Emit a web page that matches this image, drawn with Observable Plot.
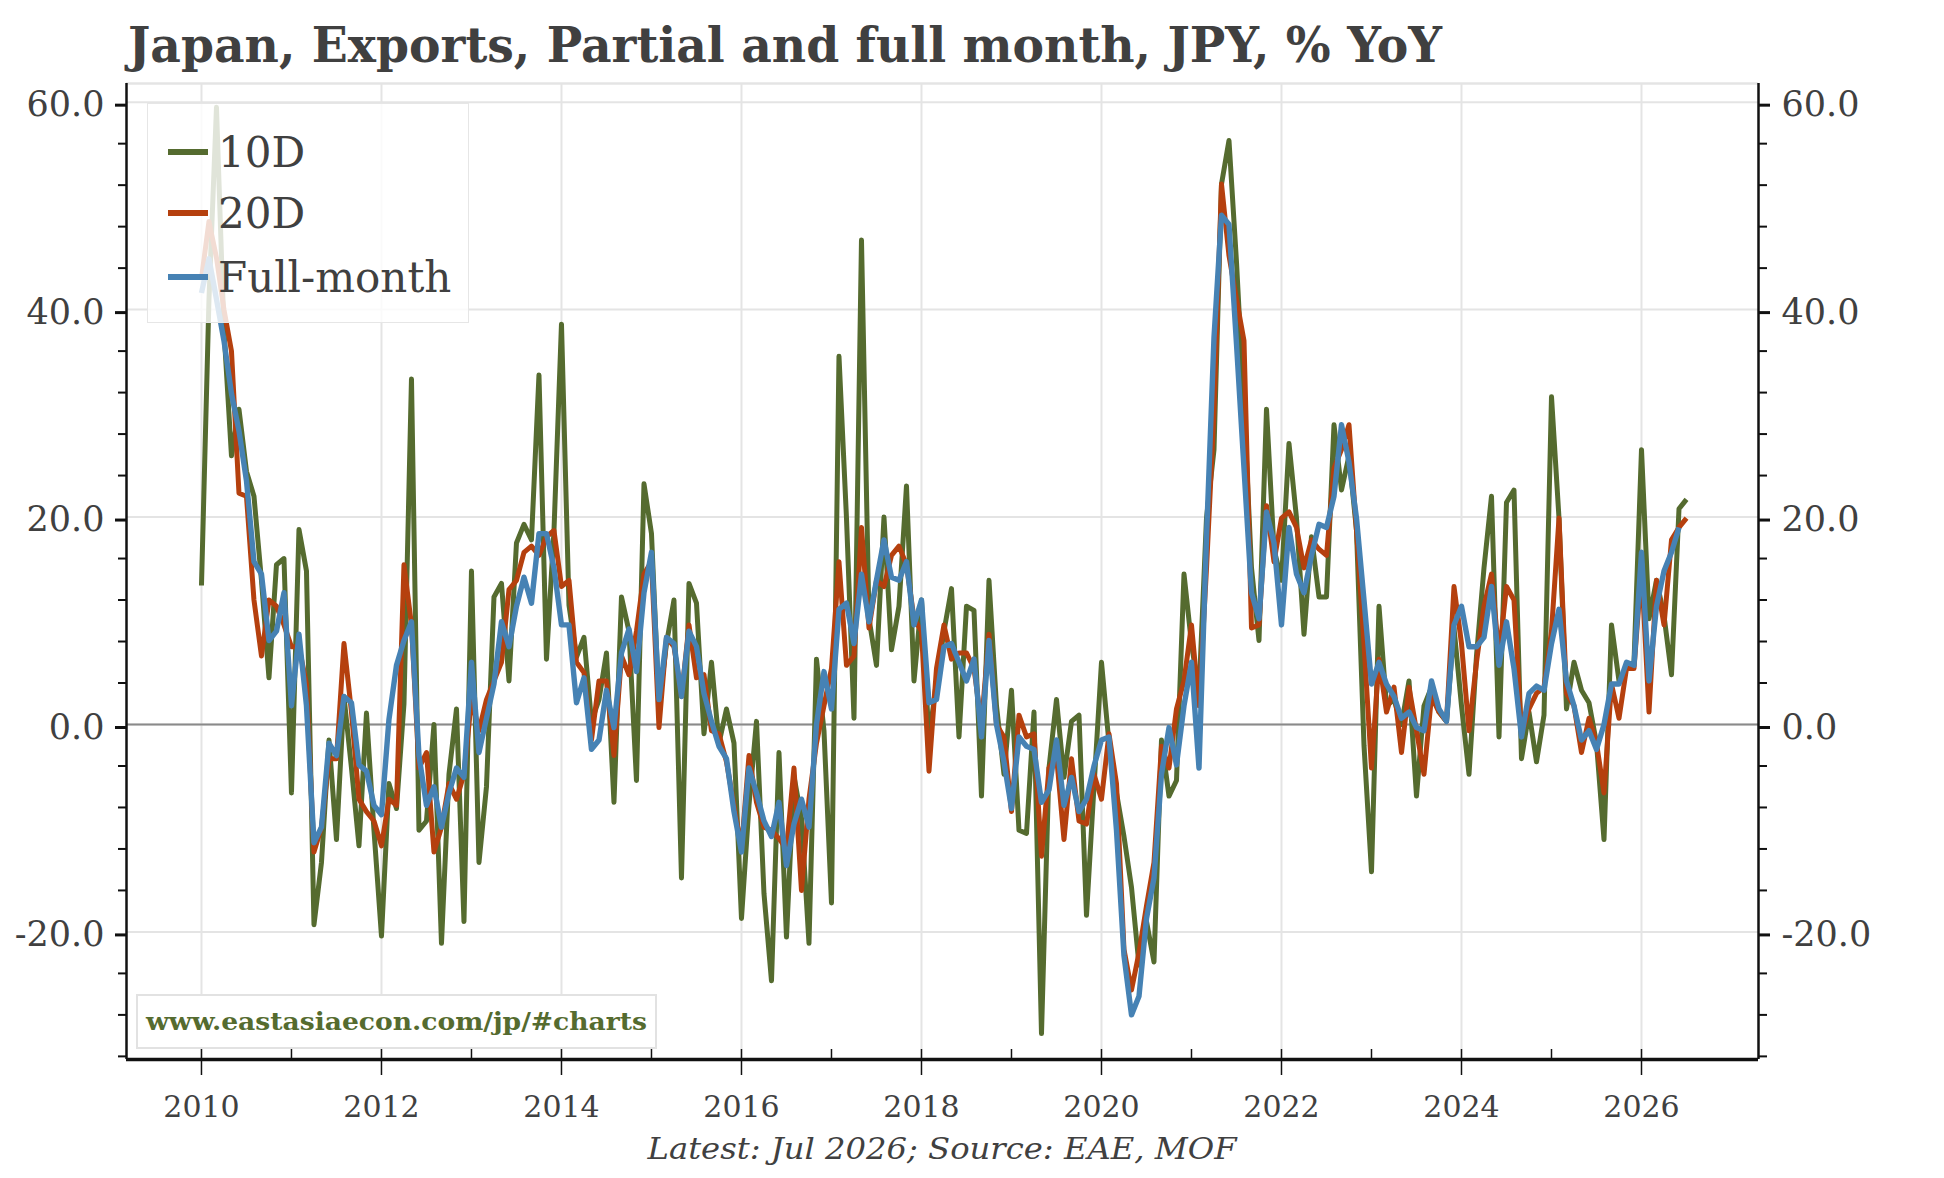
<!DOCTYPE html>
<html>
<head>
<meta charset="utf-8">
<script src="https://cdn.jsdelivr.net/npm/d3@7"></script>
<script src="https://cdn.jsdelivr.net/npm/@observablehq/plot@0.6"></script>
<style>
  html, body { margin: 0; padding: 0; background: #ffffff; }
  #wrap { position: relative; width: 1944px; height: 1178px; overflow: hidden;
          font-family: "DejaVu Serif", serif; color: #404040; background: #fff; }
  #chart { position: absolute; left: 0; top: 0; }
  .txt { position: absolute; white-space: nowrap; line-height: 1; }
  #title { left: 128px; font-weight: bold; font-size: 48px; color: #404040; }
  #caption { font-style: italic; font-size: 29px; color: #404040; }
  #legend { position: absolute; left: 147px; top: 103px; width: 322px; height: 220px;
            background: rgba(255,255,255,0.82); border: 1.5px solid #e6e6e6; box-sizing: border-box; }
  .sw { position: absolute; height: 6px; width: 40px; }
  .lab { position: absolute; font-size: 42px; line-height: 1; color: #404040; white-space: nowrap; }
  #wmbox { position: absolute; left: 136px; top: 994px; width: 521px; height: 55px;
           background: #fff; border: 2px solid #e2e2e2; box-sizing: border-box; }
  #wm { font-weight: bold; font-size: 25px; color: #556b2f; }
</style>
</head>
<body>
<div id="wrap">
  <div id="chart"></div>
  <div id="legend"></div>
  <div id="wmbox"></div>
  <div id="wm" class="txt">www.eastasiaecon.com/jp/#charts</div>
  <div id="title" class="txt">Japan, Exports, Partial and full month, JPY, % YoY</div>
  <div id="caption" class="txt">Latest: Jul 2026; Source: EAE, MOF</div>
</div>
<script>
// ---------------- DATA (monthly, starting Jan 2010) ----------------
const startYear = 2010;
const seriesNames = ["10D", "20D", "Full-month"];
const seriesColors = ["#556b2f", "#b5400e", "#4682b4"];

const tenDay = [
  13.4, 41, 59.5, 38, 25.9, 30.4, 24.4, 22.0, 13.9, 4.5, 15.4, 16.0,
  -6.6, 18.8, 14.8, -19.3, -13.3, -1.5, -11.1, 2.7, -4.2, -11.7, 1.1, -10.2,
  -20.4, -5.7, -8.1, 2, 33.3, -10.2, -9.3, 0.0, -21.1, -4.8, 1.5, -19.0,
  14.8, -13.3, -6.0, 12.3, 13.6, 4.2, 17.5, 19.3, 17.8, 33.7, 6.3, 18.7,
  38.6, 11.5, 6.5, 8.4, 0.3, 2.4, 6.9, -7.5, 12.3, 9.0, -5.4, 23.2,
  18.4, 1.8, 7.8, 12.0, -14.8, 13.6, 11.7, -0.9, 6.0, -1.8, 1.5, -1.8,
  -18.7, -7.8, 0.3, -16.3, -24.7, -2.7, -20.5, -5, -9, -21.1, 6.3, -0.6,
  -17.2, 35.5, 19.9, 0.6, 46.7, 10.2, 5.7, 20.0, 7.2, 11.4, 23.0, 4.2,
  12.0, -1.5, 4.2, 9.0, 13.1, -1.2, 11.4, 11.0, -6.9, 13.9, 1.8, -4.8,
  3.3, -10.2, -10.5, 1.2, -29.8, -4.2, 2.4, -5.1, 0.3, 0.9, -18.4, -6.0,
  6.0, -1.8, -6.6, -10.8, -15.7, -23.2, -19.0, -22.9, -1.5, -6.9, -5.4, 14.5,
  7.8, 3, 19.9, 26.5, 52.1, 56.3, 44.6, 30.7, 15.1, 8.1, 30.4, 16.9,
  13.9, 27.1, 19.9, 8.7, 18.1, 12.3, 12.3, 28.9, 22.6, 25.9, 18.7, -2,
  -14.2, 11.4, 1.8, 2.4, 0, 4.2, -6.9, 1.8, 3.6, 1.2, 0.3, 9.3,
  1.8, -4.8, 6.6, 15.1, 22.0, -1.2, 21.4, 22.6, -3.3, 1.2, -3.6, 0.9,
  31.6, 19.9, 1.5, 6.0, 3.3, 2.1, -1.8, -11.1, 9.6, 4.2, 5.4, 6.0,
  26.5, 10.2, 13.9, 10.5, 4.8, 20.8, 21.7
];

const twentyDay = [
  43, 48.5, 45, 40, 36, 22.3, 22.0, 12, 6.6, 12.0, 11.4, 9.6,
  7.5, 7.5, 3.9, -12.3, -9.9, -3.3, -3.3, 7.8, 1.2, -7.2, -8.4, -9.3,
  -11.7, -7.2, -7.8, 15.4, 9.6, -4.2, -2.7, -12.3, -9.9, -5.7, -7.2, -4.8,
  2.4, -0.6, 2.4, 4.2, 6.0, 13.0, 13.9, 16.6, 17.2, 16.3, 18.1, 18.7,
  13.3, 13.9, 6.0, 5, -1.5, 4.2, 4.2, -3.0, 6.6, 4.8, 9.0, 14.5,
  15.7, -0.3, 8.4, 7.5, 2.7, 9.6, 4.5, 4.8, -0.6, -0.9, -3.6, -7.8,
  -12.0, -3.0, -7.5, -9.9, -10.2, -11, -12.0, -4.2, -16.0, -7.2, -1.8, 1.8,
  5.4, 15.7, 5.7, 6.6, 19.0, 9.3, 13.9, 13.3, 16.3, 17.2, 15.4, 10.2,
  9.0, -4.5, 5.4, 9.6, 6.3, 6.9, 6.9, 5.4, 0, 8.7, 0, -1.2,
  -8.4, 0.9, -1.2, -0.9, -12.7, -4.2, -3.0, -11.1, -3.3, -9.3, -9.6, -4.8,
  -7.2, -0.9, -5.7, -21.7, -25.6, -22.0, -17.5, -13.3, -2.1, -4.2, 1.5, 4.2,
  9.6, 1.8, 15, 30.1, 52.1, 45.2, 41.0, 37.0, 9.3, 9.6, 21.1, 15.7,
  19.9, 20.5, 19.0, 15.1, 17.8, 16.9, 16.3, 24.7, 26.5, 28.9, 18.7, 7.8,
  -4.2, 6.3, 1.2, 3.6, -2.7, 3.6, -0.6, -4.8, 2.7, 1.2, 0.3, 13.3,
  7.8, -0.6, 6.0, 11.4, 14.5, 6.6, 13.3, 12.0, -0.9, 1.5, 3.0, 3.6,
  9.0, 19.9, 3.0, 1.8, -2.7, 0.6, -1.8, -6.6, 3.9, 0.6, 5.4, 5.4,
  15.1, 1.2, 13.9, 9.6, 17.8, 19.0, 19.9
];

const fullMonth = [
  41.6, 44.9, 41, 37, 31.9, 28.3, 23.5, 15.7, 14.5, 8.1, 9.0, 12.7,
  1.8, 8.7, 1.8, -11.4, -9.9, -1.8, -3.0, 2.7, 2.1, -3.9, -4.5, -7.8,
  -8.7, 0.5, 5.7, 8.1, 9.9, -3.0, -7.8, -6.0, -9.9, -6.6, -4.2, -5.1,
  6.0, -2.7, 0.6, 3.9, 9.9, 7.5, 11.4, 14.2, 11.7, 18.4, 18.4, 15.1,
  9.6, 9.6, 2.1, 4.5, -2.4, -1.5, 3.3, -0.3, 6.9, 9.2, 5.1, 12.7,
  16.6, 2.4, 8.4, 7.8, 2.7, 9.0, 7.5, 3.0, 0.3, -2.1, -3.3, -8.4,
  -12.3, -4.2, -6.6, -9.3, -10.8, -7.5, -13.6, -9.6, -7.2, -9.9, 0, 5.1,
  1.5, 11.1, 11.7, 7.8, 14.5, 9.9, 13.9, 17.8, 14.2, 13.9, 15.7, 9.6,
  12.0, 2.1, 2.4, 7.5, 7.8, 6.0, 4.2, 6.3, -1.2, 8.1, 0, -3.6,
  -8.1, -1.2, -2.1, -2.4, -7.5, -6.3, -1.5, -7.8, -5.1, -8.4, -7.2, -4,
  -1.5, -1.2, -10.2, -22.3, -28.0, -26.2, -18.7, -14.8, -4.8, -0.3, -3.9, 1.8,
  6.0, -4.2, 18, 37.3, 49.1, 48.2, 36.7, 24.7, 12.7, 10.2, 20.5, 17.5,
  9.6, 19.0, 14.5, 12.7, 16.3, 19.3, 19.0, 22.0, 28.9, 25.3, 19.9, 12.0,
  3.9, 6.0, 3.9, 2.7, 0.6, 1.2, -0.3, -0.6, 4.2, 1.5, 0.3, 9.6,
  11.4, 7.5, 7.5, 8.4, 13.3, 5.7, 9.9, 5.4, -1.2, 3.0, 3.7, 3.3,
  7.8, 11.1, 4.2, 1.8, -1.5, -0.6, -2.4, 0, 3.9, 3.9, 6.0, 5.7,
  16.6, 4.2, 11.4, 14.8, 16.6, 19.0
];

const xDomain = [2009.167, 2027.3];
const yDomain = [-32.3, 61.8];
const yMajorTicks = [-20, 0, 20, 40, 60];
const yMinorTicks = [-32, -28, -24, -16, -12, -8, -4, 4, 8, 12, 16, 24, 28, 32, 36, 44, 48, 52, 56];
const xMajorTicks = [2010, 2012, 2014, 2016, 2018, 2020, 2022, 2024, 2026];
const xMinorTicks = [2010, 2011, 2012, 2013, 2014, 2015, 2016, 2017, 2018, 2019, 2020, 2021, 2022, 2023, 2024, 2025, 2026];

const titleText = "Japan, Exports, Partial and full month, JPY, % YoY";
const captionText = "Latest: Jul 2026; Source: EAE, MOF";

// ---------------- BUILD ----------------
const toRows = (arr) => arr.map((v, i) => ({t: startYear + i / 12, v}));
const allSeries = [tenDay, twentyDay, fullMonth];

const gridColor = "#e4e4e4";
const fmt = d => d.toFixed(1);

const lineMarks = allSeries.map((arr, k) =>
  Plot.line(toRows(arr), {x: "t", y: "v", stroke: seriesColors[k],
    strokeWidth: k === 2 ? 5.4 : 5, strokeLinejoin: "round", strokeLinecap: "butt"}));

const chart = Plot.plot({
  width: 1944,
  height: 1178,
  marginTop: 83,
  marginBottom: 119,
  marginLeft: 126,
  marginRight: 186,
  x: {domain: xDomain, type: "linear", label: null},
  y: {domain: yDomain, type: "linear", label: null},
  style: {fontFamily: '"DejaVu Serif", serif', fontSize: "29px", color: "#404040", background: "transparent", overflow: "visible"},
  marks: [
    Plot.gridY(yMajorTicks, {stroke: gridColor, strokeOpacity: 1, strokeWidth: 2}),
    Plot.gridX(xMajorTicks, {stroke: gridColor, strokeOpacity: 1, strokeWidth: 2}),
    Plot.ruleY([yDomain[1]], {stroke: gridColor, strokeWidth: 2.5}),
    Plot.ruleY([0], {stroke: "#8a8a8a", strokeWidth: 2}),
    ...lineMarks,
    Plot.ruleX(xDomain, {stroke: "#111", strokeWidth: 2.5}),
    Plot.ruleY([yDomain[0]], {stroke: "#111", strokeWidth: 3.5}),
    Plot.axisY(yMajorTicks, {anchor: "left", label: null, tickSize: 11, tickPadding: 11, tickFormat: fmt,
      stroke: "#111", strokeWidth: 3, fill: "#404040", fontSize: 35, dy: 3}),
    Plot.axisY(yMajorTicks, {anchor: "right", label: null, tickSize: 11, tickPadding: 12, tickFormat: fmt,
      stroke: "#111", strokeWidth: 3, fill: "#404040", fontSize: 35, dy: 3}),
    Plot.axisY(yMinorTicks, {anchor: "left", label: null, tickSize: 8, tickFormat: () => "", stroke: "#111", strokeWidth: 2}),
    Plot.axisY(yMinorTicks, {anchor: "right", label: null, tickSize: 8, tickFormat: () => "", stroke: "#111", strokeWidth: 2}),
    Plot.axisX(xMajorTicks, {anchor: "bottom", label: null, tickSize: 16, tickPadding: 20, tickFormat: d => String(d),
      stroke: "#111", strokeWidth: 1.5, fill: "#404040", fontSize: 30}),
    Plot.axisX(xMinorTicks, {anchor: "bottom", label: null, tickSize: -10, tickPadding: 0, tickFormat: () => "",
      stroke: "#111", strokeWidth: 1.5})
  ]
});
document.getElementById("chart").appendChild(chart);

// legend
const legend = document.getElementById("legend");
const legendBaselines = [167, 228, 292];
seriesNames.forEach((name, k) => {
  const sw = document.createElement("div");
  sw.className = "sw";
  sw.style.background = seriesColors[k];
  sw.style.left = (167 - 147) + "px";
  sw.style.top = (legendBaselines[k] - 16 - 3 - 103) + "px";
  legend.appendChild(sw);
  const lab = document.createElement("div");
  lab.className = "lab";
  lab.textContent = name;
  lab.style.left = (217 - 147) + "px";
  lab.style.top = (legendBaselines[k] - 0.846 * 42 - 103) + "px";
  legend.appendChild(lab);
});

const title = document.getElementById("title");
title.textContent = titleText;
title.style.top = (62 - 0.846 * 48) + "px";
const caption = document.getElementById("caption");
caption.textContent = captionText;
caption.style.top = (1160 - 0.846 * 29) + "px";
const wm = document.getElementById("wm");
wm.style.left = "146px";
wm.style.top = (1030 - 0.846 * 25) + "px";

function fit(el, target, mode) {
  el.style.transform = "none";
  const w = el.getBoundingClientRect().width;
  const k = target / w;
  if (mode === "center") {
    el.style.left = (942 - w / 2) + "px";
    el.style.transformOrigin = "50% 50%";
  } else {
    el.style.transformOrigin = "0 50%";
  }
  el.style.transform = `scaleX(${k})`;
}
function doFit() {
  fit(title, 1314);
  fit(caption, 589, "center");
  fit(wm, 501);
}
doFit();
if (document.fonts && document.fonts.ready) document.fonts.ready.then(doFit);
</script>
</body>
</html>
